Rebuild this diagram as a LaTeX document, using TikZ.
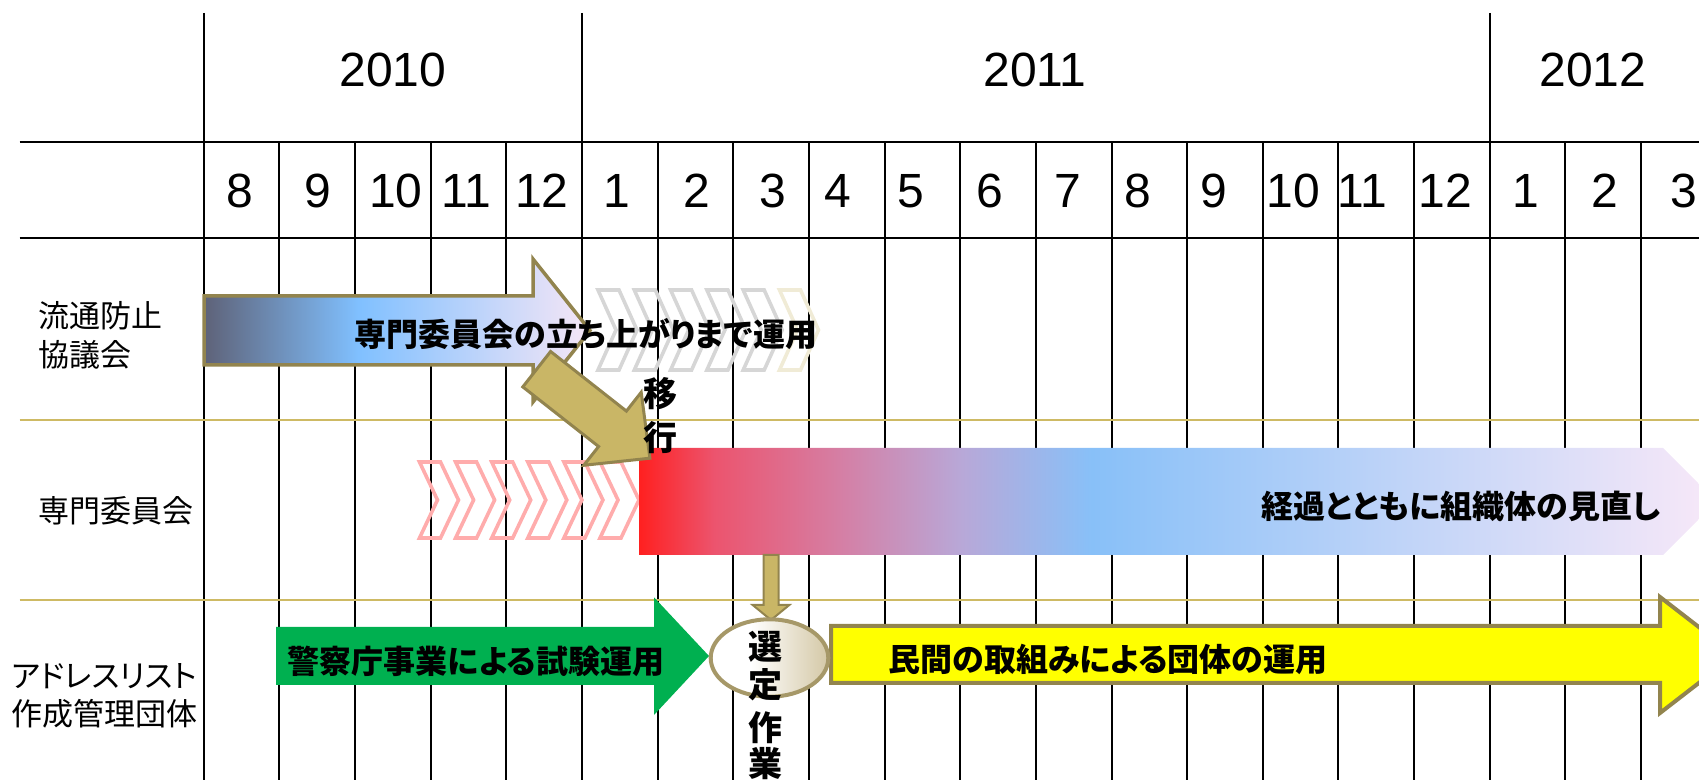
\documentclass[tikz,border=0pt]{standalone}
\usepackage{fontspec}
\setmainfont{Liberation Sans}
\newfontfamily\jp[RawFeature=+palt]{Noto Sans CJK JP}
\definecolor{goldline}{RGB}{206,186,100}
\definecolor{olivedark}{RGB}{146,132,78}
\definecolor{olivefill}{RGB}{201,182,102}
\definecolor{aonea}{RGB}{94,98,120}
\definecolor{aoneb}{RGB}{128,192,255}
\definecolor{aonec}{RGB}{246,230,246}
\definecolor{atwoa}{RGB}{255,32,32}
\definecolor{atwob}{RGB}{236,84,110}
\definecolor{atwoc}{RGB}{212,128,166}
\definecolor{atwod}{RGB}{184,168,216}
\definecolor{atwoe}{RGB}{136,192,248}
\definecolor{atwof}{RGB}{248,232,248}
\definecolor{chevpink}{RGB}{255,172,172}
\definecolor{chevgray}{RGB}{214,214,214}
\definecolor{chevcream}{RGB}{240,235,214}
\definecolor{greenarrow}{RGB}{0,176,80}
\definecolor{yellowarrow}{RGB}{255,255,0}
\definecolor{ellbeige}{RGB}{212,200,166}
\definecolor{ellline}{RGB}{166,152,104}
\pgfdeclarehorizontalshading{aone}{100bp}{color(0bp)=(aonea); color(25bp)=(aonea); color(45bp)=(aoneb); color(75bp)=(aonec); color(100bp)=(aonec)}
\pgfdeclarehorizontalshading{atwo}{100bp}{color(0bp)=(atwoa); color(25bp)=(atwoa); color(28.5bp)=(atwob); color(34.5bp)=(atwoc); color(40bp)=(atwod); color(46bp)=(atwoe); color(75bp)=(atwof); color(100bp)=(atwof)}
\pgfdeclarehorizontalshading{ellsh}{100bp}{color(0bp)=(white); color(42bp)=(white); color(75bp)=(ellbeige); color(100bp)=(ellbeige)}
\tikzset{
  gridline/.style={black, line width=1pt},
  goldrule/.style={goldline, line width=1pt},
  yearlab/.style={font=\fontsize{24}{28}\selectfont, inner sep=0pt},
  monthlab/.style={font=\fontsize{24}{28}\selectfont, inner sep=0pt},
  rowlab/.style={font=\jp\fontsize{15.5}{18}\selectfont, inner sep=0pt, anchor=west},
  boldlab/.style={font=\jp\bfseries\fontsize{16}{19}\selectfont, inner sep=0pt},
  vchar/.style={font=\jp\bfseries\fontsize{17}{20}\selectfont, inner sep=0pt},
  chevline/.style={line width=1.8pt, line join=miter}
}
\begin{document}
\begin{tikzpicture}[x=0.5pt,y=-0.5pt]
\useasboundingbox (0,0) rectangle (1699,780);
\clip (0,0) rectangle (1699,780);
% grid
\foreach \k in {1,2,3,4,6,7,8,9,10,11,12,13,14,15,16,18,19}
  \draw[gridline] ({203.7+75.65*\k},142) -- ({203.7+75.65*\k},780);
\foreach \k in {0,5,17}
  \draw[gridline] ({203.7+75.65*\k},13) -- ({203.7+75.65*\k},780);
\draw[gridline] (19.5,142) -- (1699,142);
\draw[gridline] (19.5,238.4) -- (1699,238.4);
\draw[goldrule] (19.5,420.4) -- (1699,420.4);
\draw[goldrule] (19.5,600.5) -- (1699,600.5);
% years
\node[yearlab] (y2010) at (393,70) {2010};
\node[yearlab] (y2011) at (1035,70) {2011};
\node[yearlab] (y2012) at (1593,70) {2012};
% months
\foreach \xx/\mm [count=\i] in {240/8,318/9,396/10,466/11,542/12,617/1,697/2,773/3,838/4,911/5,990/6,1068/7,1138/8,1214/9,1293/10,1362/11,1445/12,1526/1,1605/2,1684/3}
  \node[monthlab] (m\i) at (\xx,191) {\mm};
% row labels
\node[rowlab] (r1a) at (38,316) {流通防止};
\node[rowlab] (r1b) at (38,355) {協議会};
\node[rowlab] (r2) at (38,511) {専門委員会};
\node[rowlab] (r3a) at (11,676) {アドレスリスト};
\node[rowlab] (r3b) at (11,714) {作成管理団体};
% chevrons row 2 (pink)
\foreach \x in {419.5,455.6,491.7,527.8,563.9,600}
  \draw[chevline, chevpink] (\x,462) -- (\x+21,462) -- (\x+39,500) -- (\x+21,538) -- (\x,538) -- (\x+18,500) -- cycle;
% chevrons row 1 (gray)
\foreach \x in {598,634.3,670.6,706.9,743.2}
  \draw[chevline, chevgray] (\x,290) -- (\x+21,290) -- (\x+39,330) -- (\x+21,370) -- (\x,370) -- (\x+18,330) -- cycle;
\draw[chevline, chevcream] (779.5,290) -- (800.5,290) -- (818.5,330) -- (800.5,370) -- (779.5,370) -- (797.5,330) -- cycle;
% arrow 1
\shadedraw[shading=aone, draw=olivedark, line width=1.75pt, line join=miter]
  (204,296) -- (533,296) -- (533,259) -- (590,330.5) -- (533,402) -- (533,365) -- (204,365) -- cycle;
% arrow 2
\shade[shading=atwo] (639,448) -- (1663,448) -- (1716.5,501.5) -- (1663,555) -- (639,555) -- cycle;
% green arrow
\fill[greenarrow] (276,627) -- (654,627) -- (654,597.3) -- (709,656) -- (654,715) -- (654,685) -- (276,685) -- cycle;
% yellow arrow
\filldraw[fill=yellowarrow, draw=olivedark, line width=2pt, line join=miter]
  (831,626) -- (1660,626) -- (1660,597) -- (1735,655) -- (1660,713) -- (1660,683) -- (831,683) -- cycle;
% down arrow
\filldraw[fill=olivefill, draw=olivedark, line width=1pt, line join=miter]
  (763.5,555) -- (778.5,555) -- (778.5,605) -- (789.3,605) -- (771,620) -- (752.7,605) -- (763.5,605) -- cycle;
% ellipse
\shadedraw[shading=ellsh, draw=ellline, line width=2pt] (769.5,658) ellipse [x radius=58.8, y radius=38.7];
% transition arrow
\filldraw[fill=olivefill, draw=olivedark, line width=1.5pt, line join=miter]
  (522.8,386.9) -- (550.6,351.5) -- (626.4,411.1) -- (641.2,392.3) -- (649.9,458.2) -- (583.8,465.3) -- (598.6,446.5) -- cycle;
% bold texts
\node[boldlab] (t1) at (586,334) {専門委員会の立ち上がりまで運用};
\node[boldlab] (t2) at (1461,506) {経過とともに組織体の見直し};
\node[boldlab] (t3) at (476,661) {警察庁事業による試験運用};
\node[boldlab] (t4) at (1108,659.5) {民間の取組みによる団体の運用};
\node[vchar] (ia) at (660,394) {移};
\node[vchar] (ib) at (660,438) {行};
\node[vchar] (sa) at (765,646.7) {選};
\node[vchar] (sb) at (765,685) {定};
\node[vchar] (sc) at (765,727.5) {作};
\node[vchar] (sd) at (765,764) {業};
\end{tikzpicture}
\end{document}
